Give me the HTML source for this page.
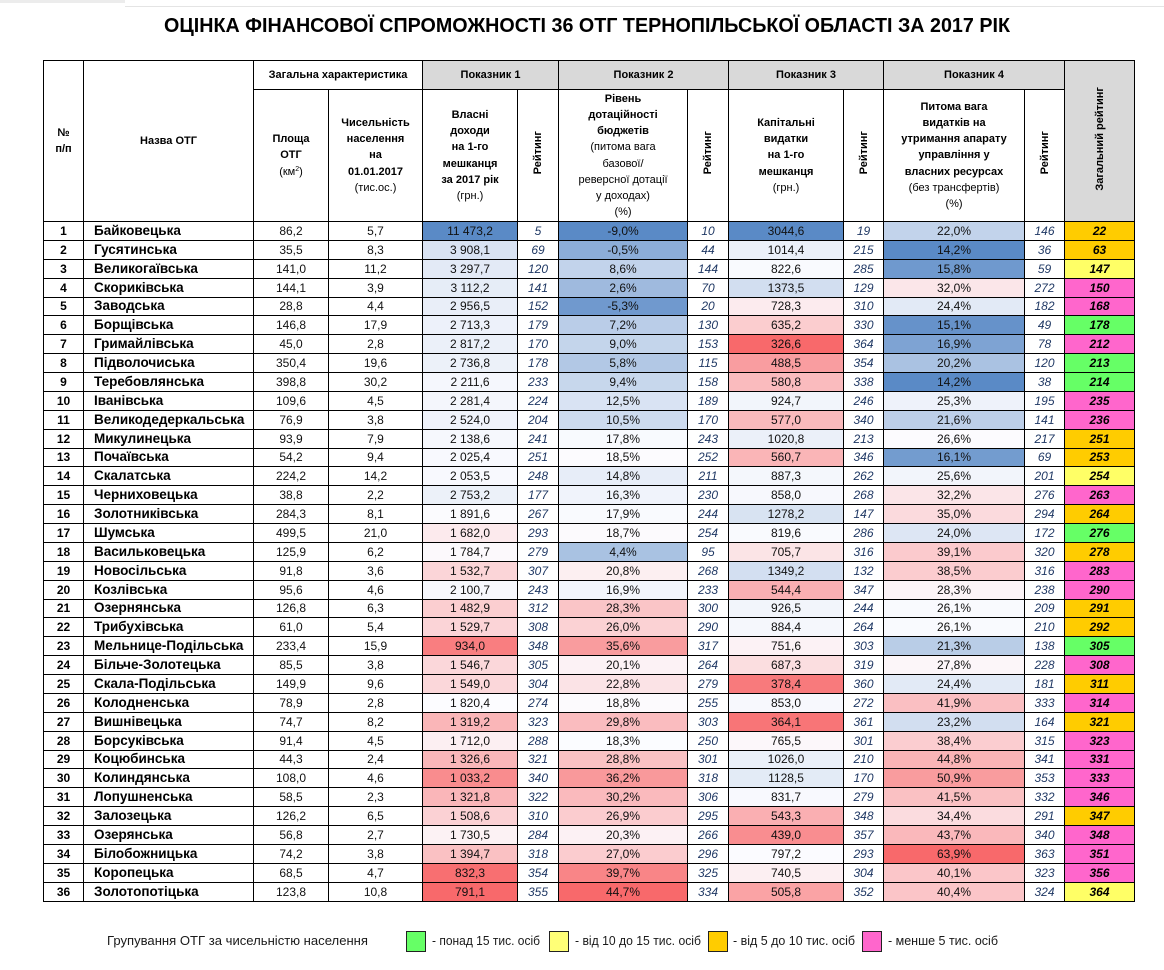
<!DOCTYPE html>
<html>
<head>
<meta charset="utf-8">
<style>
html,body{margin:0;padding:0;background:#fff;}
body{width:1164px;height:970px;position:relative;overflow:hidden;font-family:"Liberation Sans",sans-serif;}
.topband{position:absolute;left:0;top:0;width:125px;height:3px;background:#ececec;}
.topline{position:absolute;left:125px;top:6px;width:1039px;height:1px;background:#e4e4e4;}
table.m{position:absolute;left:43px;top:60px;border-collapse:collapse;table-layout:fixed;width:1091px;}
.m td{border:1px solid #000;padding:0;text-align:center;vertical-align:middle;white-space:nowrap;overflow:hidden;font-size:12px;line-height:14px;color:#111;}
.m thead td{font-size:11px;font-weight:bold;line-height:16.2px;color:#000;}
.m thead td.g{background:#d9d9d9;}
.nr{font-weight:normal;}
.sp{font-size:7px;vertical-align:4px;line-height:0;}
.v{display:inline-block;writing-mode:vertical-rl;transform:rotate(180deg);line-height:14px;}
.m tbody tr{height:18.89px;}
.m td.n{font-weight:bold;color:#000;}
.m td.nm{text-align:left;padding-left:10px;font-weight:bold;font-size:13.5px;color:#000;}
.m td.r{font-style:italic;color:#1f3864;}
.m td.t{font-style:italic;font-weight:bold;color:#000;}
.G{background:#66ff66}.Y{background:#ffff66}.O{background:#ffcc00}.P{background:#ff66cc}
svg{position:absolute;left:0;}
</style>
</head>
<body>
<div class="topband"></div>
<div class="topline"></div>
<svg style="top:0" width="1164" height="50">
<text x="164" y="32" font-family="Liberation Sans, sans-serif" font-size="20" font-weight="bold" fill="#000" textLength="846" lengthAdjust="spacingAndGlyphs">ОЦІНКА ФІНАНСОВОЇ СПРОМОЖНОСТІ 36 ОТГ ТЕРНОПІЛЬСЬКОЇ ОБЛАСТІ  ЗА 2017 РІК</text>
</svg>
<table class="m">
<colgroup>
<col style="width:40px"><col style="width:170px"><col style="width:75px"><col style="width:94px">
<col style="width:95px"><col style="width:41px"><col style="width:129px"><col style="width:41px">
<col style="width:115px"><col style="width:40px"><col style="width:141px"><col style="width:40px"><col style="width:70px">
</colgroup>
<thead>
<tr style="height:29px">
<td rowspan="2">№<br>п/п</td>
<td rowspan="2">Назва ОТГ</td>
<td colspan="2">Загальна характеристика</td>
<td colspan="2" class="g">Показник 1</td>
<td colspan="2" class="g">Показник 2</td>
<td colspan="2" class="g">Показник 3</td>
<td colspan="2" class="g">Показник 4</td>
<td rowspan="2" class="g"><span class="v">Загальний рейтинг</span></td>
</tr>
<tr style="height:132px">
<td>Площа<br>ОТГ<br><span class="nr">(км<span class="sp">2</span>)</span></td>
<td>Чисельність<br>населення<br>на<br>01.01.2017<br><span class="nr">(тис.ос.)</span></td>
<td>Власні<br>доходи<br>на 1-го<br>мешканця<br>за 2017 рік<br><span class="nr">(грн.)</span></td>
<td><span class="v">Рейтинг</span></td>
<td>Рівень<br>дотаційності<br>бюджетів<br><span class="nr">(питома вага<br>базової/<br>реверсної дотації<br>у доходах)<br>(%)</span></td>
<td><span class="v">Рейтинг</span></td>
<td>Капітальні<br>видатки<br>на 1-го<br>мешканця<br><span class="nr">(грн.)</span></td>
<td><span class="v">Рейтинг</span></td>
<td>Питома вага<br>видатків на<br>утримання апарату<br>управління у<br>власних ресурсах<br><span class="nr">(без трансфертів)<br>(%)</span></td>
<td><span class="v">Рейтинг</span></td>
</tr>
</thead>
<tbody>
<tr><td class="n">1</td><td class="nm">Байковецька</td><td>86,2</td><td>5,7</td><td class="c">11 473,2</td><td class="r">5</td><td class="c">-9,0%</td><td class="r">10</td><td class="c">3044,6</td><td class="r">19</td><td class="c">22,0%</td><td class="r">146</td><td class="t O">22</td></tr>
<tr><td class="n">2</td><td class="nm">Гусятинська</td><td>35,5</td><td>8,3</td><td class="c">3 908,1</td><td class="r">69</td><td class="c">-0,5%</td><td class="r">44</td><td class="c">1014,4</td><td class="r">215</td><td class="c">14,2%</td><td class="r">36</td><td class="t O">63</td></tr>
<tr><td class="n">3</td><td class="nm">Великогаївська</td><td>141,0</td><td>11,2</td><td class="c">3 297,7</td><td class="r">120</td><td class="c">8,6%</td><td class="r">144</td><td class="c">822,6</td><td class="r">285</td><td class="c">15,8%</td><td class="r">59</td><td class="t Y">147</td></tr>
<tr><td class="n">4</td><td class="nm">Скориківська</td><td>144,1</td><td>3,9</td><td class="c">3 112,2</td><td class="r">141</td><td class="c">2,6%</td><td class="r">70</td><td class="c">1373,5</td><td class="r">129</td><td class="c">32,0%</td><td class="r">272</td><td class="t P">150</td></tr>
<tr><td class="n">5</td><td class="nm">Заводська</td><td>28,8</td><td>4,4</td><td class="c">2 956,5</td><td class="r">152</td><td class="c">-5,3%</td><td class="r">20</td><td class="c">728,3</td><td class="r">310</td><td class="c">24,4%</td><td class="r">182</td><td class="t P">168</td></tr>
<tr><td class="n">6</td><td class="nm">Борщівська</td><td>146,8</td><td>17,9</td><td class="c">2 713,3</td><td class="r">179</td><td class="c">7,2%</td><td class="r">130</td><td class="c">635,2</td><td class="r">330</td><td class="c">15,1%</td><td class="r">49</td><td class="t G">178</td></tr>
<tr><td class="n">7</td><td class="nm">Гримайлівська</td><td>45,0</td><td>2,8</td><td class="c">2 817,2</td><td class="r">170</td><td class="c">9,0%</td><td class="r">153</td><td class="c">326,6</td><td class="r">364</td><td class="c">16,9%</td><td class="r">78</td><td class="t P">212</td></tr>
<tr><td class="n">8</td><td class="nm">Підволочиська</td><td>350,4</td><td>19,6</td><td class="c">2 736,8</td><td class="r">178</td><td class="c">5,8%</td><td class="r">115</td><td class="c">488,5</td><td class="r">354</td><td class="c">20,2%</td><td class="r">120</td><td class="t G">213</td></tr>
<tr><td class="n">9</td><td class="nm">Теребовлянська</td><td>398,8</td><td>30,2</td><td class="c">2 211,6</td><td class="r">233</td><td class="c">9,4%</td><td class="r">158</td><td class="c">580,8</td><td class="r">338</td><td class="c">14,2%</td><td class="r">38</td><td class="t G">214</td></tr>
<tr><td class="n">10</td><td class="nm">Іванівська</td><td>109,6</td><td>4,5</td><td class="c">2 281,4</td><td class="r">224</td><td class="c">12,5%</td><td class="r">189</td><td class="c">924,7</td><td class="r">246</td><td class="c">25,3%</td><td class="r">195</td><td class="t P">235</td></tr>
<tr><td class="n">11</td><td class="nm">Великодедеркальська</td><td>76,9</td><td>3,8</td><td class="c">2 524,0</td><td class="r">204</td><td class="c">10,5%</td><td class="r">170</td><td class="c">577,0</td><td class="r">340</td><td class="c">21,6%</td><td class="r">141</td><td class="t P">236</td></tr>
<tr><td class="n">12</td><td class="nm">Микулинецька</td><td>93,9</td><td>7,9</td><td class="c">2 138,6</td><td class="r">241</td><td class="c">17,8%</td><td class="r">243</td><td class="c">1020,8</td><td class="r">213</td><td class="c">26,6%</td><td class="r">217</td><td class="t O">251</td></tr>
<tr><td class="n">13</td><td class="nm">Почаївська</td><td>54,2</td><td>9,4</td><td class="c">2 025,4</td><td class="r">251</td><td class="c">18,5%</td><td class="r">252</td><td class="c">560,7</td><td class="r">346</td><td class="c">16,1%</td><td class="r">69</td><td class="t O">253</td></tr>
<tr><td class="n">14</td><td class="nm">Скалатська</td><td>224,2</td><td>14,2</td><td class="c">2 053,5</td><td class="r">248</td><td class="c">14,8%</td><td class="r">211</td><td class="c">887,3</td><td class="r">262</td><td class="c">25,6%</td><td class="r">201</td><td class="t Y">254</td></tr>
<tr><td class="n">15</td><td class="nm">Черниховецька</td><td>38,8</td><td>2,2</td><td class="c">2 753,2</td><td class="r">177</td><td class="c">16,3%</td><td class="r">230</td><td class="c">858,0</td><td class="r">268</td><td class="c">32,2%</td><td class="r">276</td><td class="t P">263</td></tr>
<tr><td class="n">16</td><td class="nm">Золотниківська</td><td>284,3</td><td>8,1</td><td class="c">1 891,6</td><td class="r">267</td><td class="c">17,9%</td><td class="r">244</td><td class="c">1278,2</td><td class="r">147</td><td class="c">35,0%</td><td class="r">294</td><td class="t O">264</td></tr>
<tr><td class="n">17</td><td class="nm">Шумська</td><td>499,5</td><td>21,0</td><td class="c">1 682,0</td><td class="r">293</td><td class="c">18,7%</td><td class="r">254</td><td class="c">819,6</td><td class="r">286</td><td class="c">24,0%</td><td class="r">172</td><td class="t G">276</td></tr>
<tr><td class="n">18</td><td class="nm">Васильковецька</td><td>125,9</td><td>6,2</td><td class="c">1 784,7</td><td class="r">279</td><td class="c">4,4%</td><td class="r">95</td><td class="c">705,7</td><td class="r">316</td><td class="c">39,1%</td><td class="r">320</td><td class="t O">278</td></tr>
<tr><td class="n">19</td><td class="nm">Новосільська</td><td>91,8</td><td>3,6</td><td class="c">1 532,7</td><td class="r">307</td><td class="c">20,8%</td><td class="r">268</td><td class="c">1349,2</td><td class="r">132</td><td class="c">38,5%</td><td class="r">316</td><td class="t P">283</td></tr>
<tr><td class="n">20</td><td class="nm">Козлівська</td><td>95,6</td><td>4,6</td><td class="c">2 100,7</td><td class="r">243</td><td class="c">16,9%</td><td class="r">233</td><td class="c">544,4</td><td class="r">347</td><td class="c">28,3%</td><td class="r">238</td><td class="t P">290</td></tr>
<tr><td class="n">21</td><td class="nm">Озернянська</td><td>126,8</td><td>6,3</td><td class="c">1 482,9</td><td class="r">312</td><td class="c">28,3%</td><td class="r">300</td><td class="c">926,5</td><td class="r">244</td><td class="c">26,1%</td><td class="r">209</td><td class="t O">291</td></tr>
<tr><td class="n">22</td><td class="nm">Трибухівська</td><td>61,0</td><td>5,4</td><td class="c">1 529,7</td><td class="r">308</td><td class="c">26,0%</td><td class="r">290</td><td class="c">884,4</td><td class="r">264</td><td class="c">26,1%</td><td class="r">210</td><td class="t O">292</td></tr>
<tr><td class="n">23</td><td class="nm">Мельнице-Подільська</td><td>233,4</td><td>15,9</td><td class="c">934,0</td><td class="r">348</td><td class="c">35,6%</td><td class="r">317</td><td class="c">751,6</td><td class="r">303</td><td class="c">21,3%</td><td class="r">138</td><td class="t G">305</td></tr>
<tr><td class="n">24</td><td class="nm">Більче-Золотецька</td><td>85,5</td><td>3,8</td><td class="c">1 546,7</td><td class="r">305</td><td class="c">20,1%</td><td class="r">264</td><td class="c">687,3</td><td class="r">319</td><td class="c">27,8%</td><td class="r">228</td><td class="t P">308</td></tr>
<tr><td class="n">25</td><td class="nm">Скала-Подільська</td><td>149,9</td><td>9,6</td><td class="c">1 549,0</td><td class="r">304</td><td class="c">22,8%</td><td class="r">279</td><td class="c">378,4</td><td class="r">360</td><td class="c">24,4%</td><td class="r">181</td><td class="t O">311</td></tr>
<tr><td class="n">26</td><td class="nm">Колодненська</td><td>78,9</td><td>2,8</td><td class="c">1 820,4</td><td class="r">274</td><td class="c">18,8%</td><td class="r">255</td><td class="c">853,0</td><td class="r">272</td><td class="c">41,9%</td><td class="r">333</td><td class="t P">314</td></tr>
<tr><td class="n">27</td><td class="nm">Вишнівецька</td><td>74,7</td><td>8,2</td><td class="c">1 319,2</td><td class="r">323</td><td class="c">29,8%</td><td class="r">303</td><td class="c">364,1</td><td class="r">361</td><td class="c">23,2%</td><td class="r">164</td><td class="t O">321</td></tr>
<tr><td class="n">28</td><td class="nm">Борсуківська</td><td>91,4</td><td>4,5</td><td class="c">1 712,0</td><td class="r">288</td><td class="c">18,3%</td><td class="r">250</td><td class="c">765,5</td><td class="r">301</td><td class="c">38,4%</td><td class="r">315</td><td class="t P">323</td></tr>
<tr><td class="n">29</td><td class="nm">Коцюбинська</td><td>44,3</td><td>2,4</td><td class="c">1 326,6</td><td class="r">321</td><td class="c">28,8%</td><td class="r">301</td><td class="c">1026,0</td><td class="r">210</td><td class="c">44,8%</td><td class="r">341</td><td class="t P">331</td></tr>
<tr><td class="n">30</td><td class="nm">Колиндянська</td><td>108,0</td><td>4,6</td><td class="c">1 033,2</td><td class="r">340</td><td class="c">36,2%</td><td class="r">318</td><td class="c">1128,5</td><td class="r">170</td><td class="c">50,9%</td><td class="r">353</td><td class="t P">333</td></tr>
<tr><td class="n">31</td><td class="nm">Лопушненська</td><td>58,5</td><td>2,3</td><td class="c">1 321,8</td><td class="r">322</td><td class="c">30,2%</td><td class="r">306</td><td class="c">831,7</td><td class="r">279</td><td class="c">41,5%</td><td class="r">332</td><td class="t P">346</td></tr>
<tr><td class="n">32</td><td class="nm">Залозецька</td><td>126,2</td><td>6,5</td><td class="c">1 508,6</td><td class="r">310</td><td class="c">26,9%</td><td class="r">295</td><td class="c">543,3</td><td class="r">348</td><td class="c">34,4%</td><td class="r">291</td><td class="t O">347</td></tr>
<tr><td class="n">33</td><td class="nm">Озерянська</td><td>56,8</td><td>2,7</td><td class="c">1 730,5</td><td class="r">284</td><td class="c">20,3%</td><td class="r">266</td><td class="c">439,0</td><td class="r">357</td><td class="c">43,7%</td><td class="r">340</td><td class="t P">348</td></tr>
<tr><td class="n">34</td><td class="nm">Білобожницька</td><td>74,2</td><td>3,8</td><td class="c">1 394,7</td><td class="r">318</td><td class="c">27,0%</td><td class="r">296</td><td class="c">797,2</td><td class="r">293</td><td class="c">63,9%</td><td class="r">363</td><td class="t P">351</td></tr>
<tr><td class="n">35</td><td class="nm">Коропецька</td><td>68,5</td><td>4,7</td><td class="c">832,3</td><td class="r">354</td><td class="c">39,7%</td><td class="r">325</td><td class="c">740,5</td><td class="r">304</td><td class="c">40,1%</td><td class="r">323</td><td class="t P">356</td></tr>
<tr><td class="n">36</td><td class="nm">Золотопотіцька</td><td>123,8</td><td>10,8</td><td class="c">791,1</td><td class="r">355</td><td class="c">44,7%</td><td class="r">334</td><td class="c">505,8</td><td class="r">352</td><td class="c">40,4%</td><td class="r">324</td><td class="t Y">364</td></tr>
</tbody>
</table>
<svg style="top:900px" width="1164" height="70">
<g font-family="Liberation Sans, sans-serif" font-size="12.5" fill="#1a1a1a">
<text x="107" y="45" textLength="261" lengthAdjust="spacingAndGlyphs">Групування ОТГ за чисельністю населення</text>
<rect x="406.5" y="31.5" width="19" height="20" fill="#66ff66" stroke="#222" stroke-width="1"/>
<text x="432" y="45" textLength="108" lengthAdjust="spacingAndGlyphs">- понад 15 тис. осіб</text>
<rect x="549.5" y="31.5" width="19" height="20" fill="#ffff77" stroke="#222" stroke-width="1"/>
<text x="575" y="45" textLength="126" lengthAdjust="spacingAndGlyphs">-  від 10 до 15 тис. осіб</text>
<rect x="708.5" y="31.5" width="19" height="20" fill="#ffcc00" stroke="#222" stroke-width="1"/>
<text x="733" y="45" textLength="122" lengthAdjust="spacingAndGlyphs">-  від 5 до 10 тис. осіб</text>
<rect x="862.5" y="31.5" width="19" height="20" fill="#ff66cc" stroke="#222" stroke-width="1"/>
<text x="888" y="45" textLength="110" lengthAdjust="spacingAndGlyphs">-  менше 5 тис. осіб</text>
</g>
</svg>
<script>
(function(){
  var rows=document.querySelectorAll('table.m tbody tr');
  var RED=[248,105,107],BLUE=[90,138,198],W=[252,252,255];
  function p(s){return parseFloat(s.replace(/[\s\u00a0%]/g,'').replace(',','.'));}
  var cols=[[4,true],[6,false],[8,true],[10,false]];
  cols.forEach(function(cd){
    var ci=cd[0],hiGood=cd[1];
    var vals=[];
    for(var i=0;i<rows.length;i++){vals.push(p(rows[i].cells[ci].textContent));}
    var s=vals.slice().sort(function(a,b){return a-b;});
    var n=s.length,mn=s[0],mx=s[n-1];
    var pos=(n-1)*0.5,lo=Math.floor(pos);
    var md=s[lo]+(pos-lo)*((s[lo+1]!==undefined?s[lo+1]:s[lo])-s[lo]);
    var minC=hiGood?RED:BLUE,maxC=hiGood?BLUE:RED;
    for(var j=0;j<rows.length;j++){
      var v=vals[j],c=[0,0,0],t,k;
      if(v<=md){t=(md===mn)?1:(v-mn)/(md-mn);for(k=0;k<3;k++)c[k]=Math.round(minC[k]+t*(W[k]-minC[k]));}
      else{t=(mx===md)?0:(v-md)/(mx-md);for(k=0;k<3;k++)c[k]=Math.round(W[k]+t*(maxC[k]-W[k]));}
      rows[j].cells[ci].style.background='rgb('+c.join(',')+')';
    }
  });
})();
</script>
</body>
</html>
